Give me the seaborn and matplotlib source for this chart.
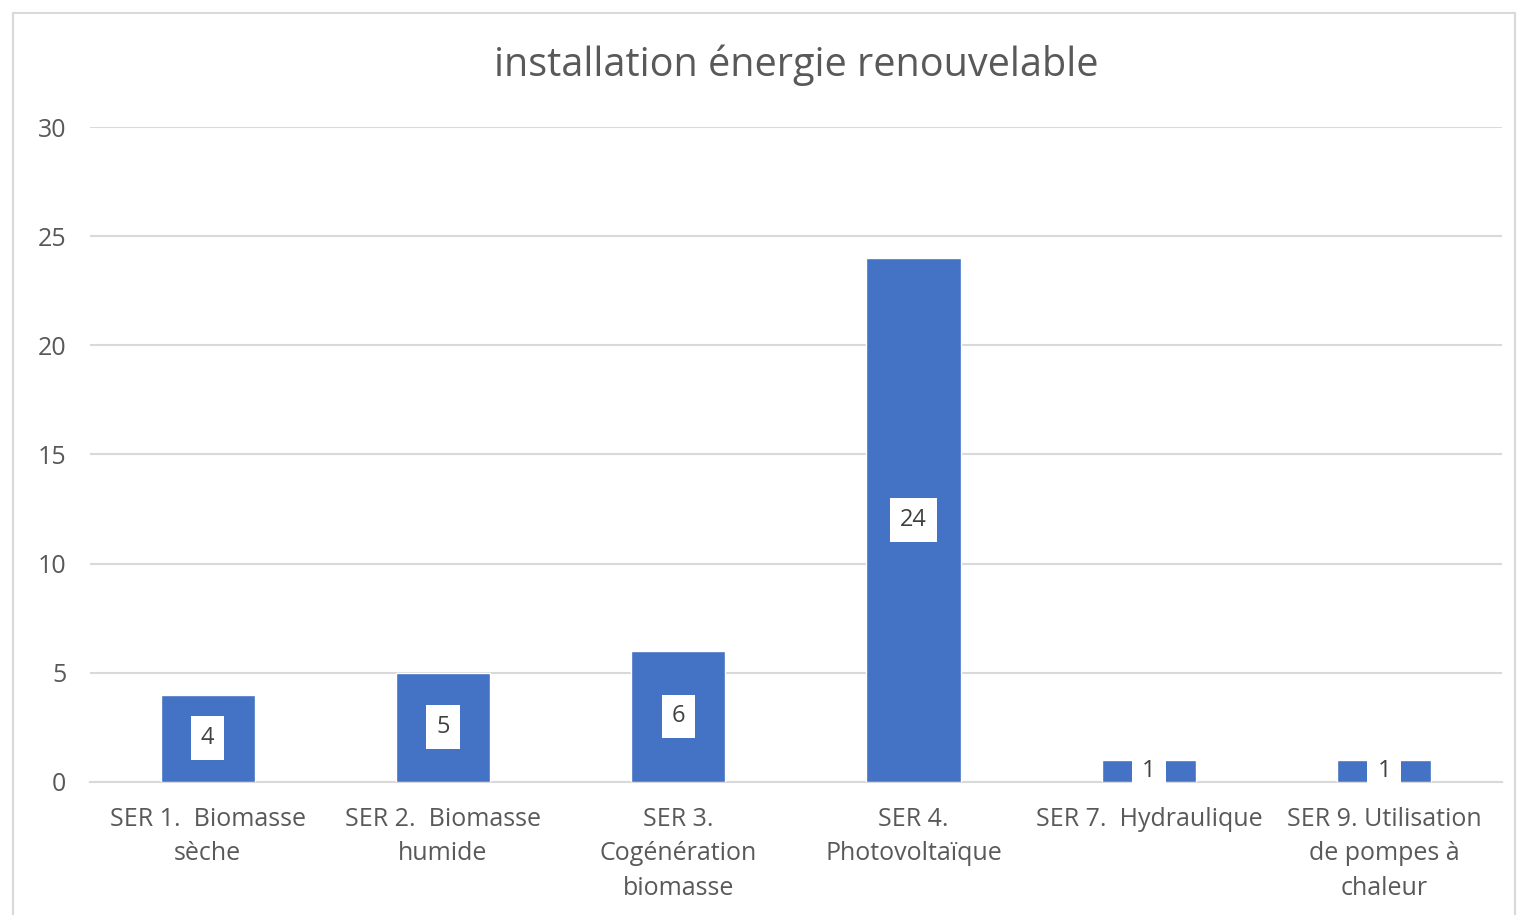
import matplotlib
matplotlib.use("Agg")
import matplotlib.pyplot as plt
import seaborn as sns
import pandas as pd
from matplotlib.patches import Rectangle

categories = [
    "SER 1.  Biomasse\nsèche",
    "SER 2.  Biomasse\nhumide",
    "SER 3.\nCogénération\nbiomasse",
    "SER 4.\nPhotovoltaïque",
    "SER 7.  Hydraulique",
    "SER 9. Utilisation\nde pompes à\nchaleur",
]
values = [4, 5, 6, 24, 1, 1]
yticks = [0, 5, 10, 15, 20, 25, 30]

df = pd.DataFrame({"cat": categories, "val": values})

sns.set_style("white")
plt.rcParams["font.family"] = ["Open Sans", "DejaVu Sans"]

fig = plt.figure(figsize=(15.17, 9.15), dpi=100)
ax = fig.add_axes([0.0593, 0.1454, 0.9307, 0.7158])

sns.barplot(data=df, x="cat", y="val", color="#4472C4", width=0.4,
            saturation=1, ax=ax, zorder=3)

ax.set_ylim(0, 30)
ax.set_yticks(yticks)
ax.grid(axis="y", color="#d9d9d9", linewidth=1.5, zorder=0)
ax.set_xlabel("")
ax.set_ylabel("")
for s in ["top", "right", "left"]:
    ax.spines[s].set_visible(False)
ax.spines["bottom"].set_color("#d9d9d9")
ax.spines["bottom"].set_linewidth(1.5)
ax.tick_params(axis="both", length=0, labelsize=18, colors="#595959")
ax.tick_params(axis="x", pad=18)
ax.tick_params(axis="y", pad=17)
for lbl in ax.get_xticklabels():
    lbl.set_linespacing(1.5)
    lbl.set_verticalalignment("top")

ax.bar_label(ax.containers[0], labels=[str(v) for v in values], label_type="center",
             fontsize=17, color="#404040",
             bbox=dict(boxstyle="square,pad=0.42", fc="white", ec="none"))

ax.set_title("installation énergie renouvelable", fontsize=28.5, color="#595959", pad=37)

fig.patches.append(Rectangle((13 / 1517, -0.01), 1502 / 1517, 1 - 13 / 915 + 0.01,
                             transform=fig.transFigure, fill=False,
                             edgecolor="#d9d9d9", linewidth=1.5))

fig.savefig("out.png", dpi=100, facecolor="white")
